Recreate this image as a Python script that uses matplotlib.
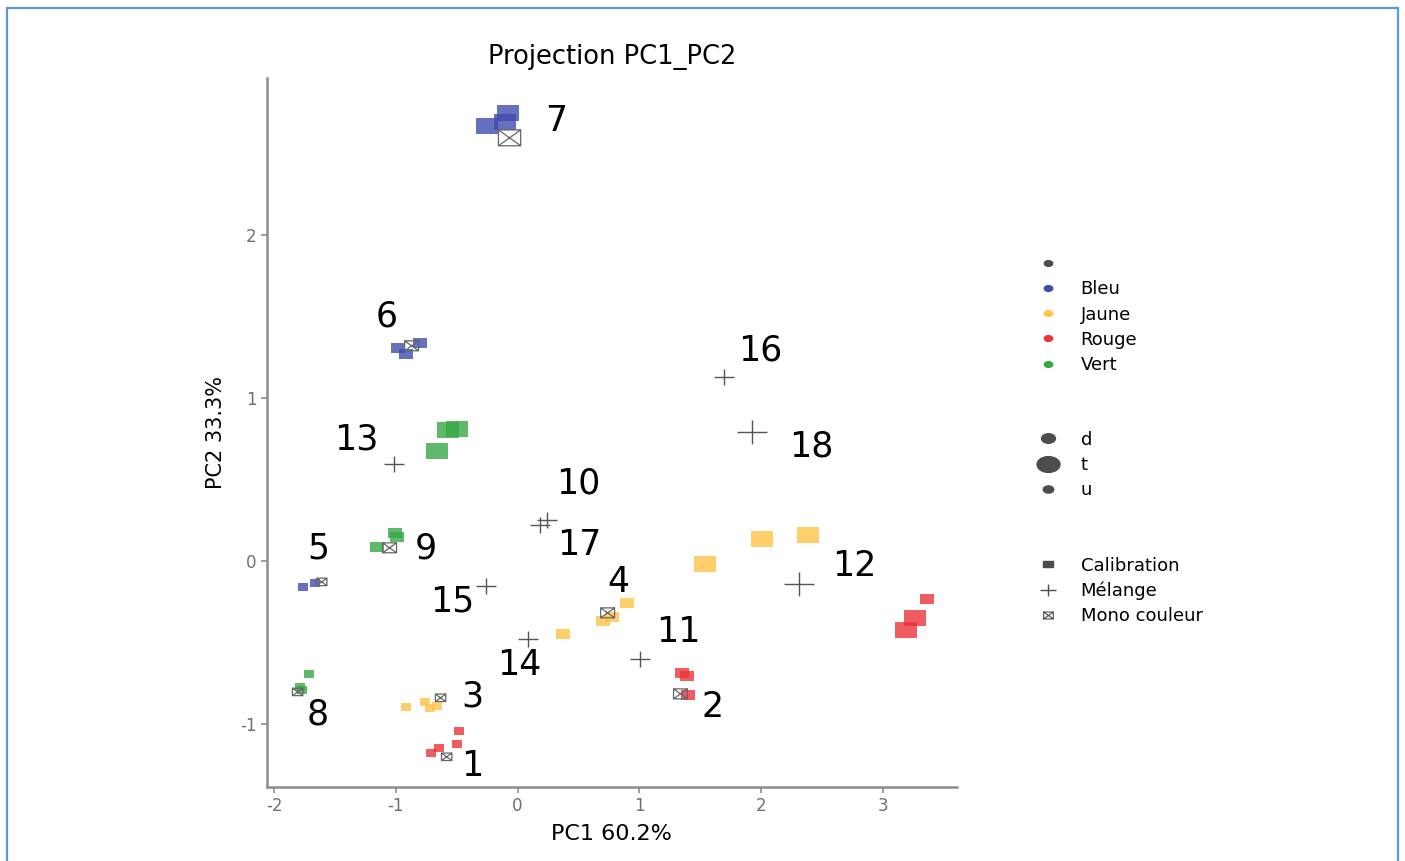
import matplotlib
matplotlib.use("Agg")
import matplotlib.pyplot as plt
from matplotlib.lines import Line2D
from matplotlib.markers import MarkerStyle
from matplotlib.patches import Rectangle
from matplotlib.path import Path
from matplotlib.transforms import Affine2D

plt.rcParams['axes.unicode_minus'] = False

# Data
# calibration points: PC1, PC2, colour, size group
cal_x = [-0.08, -0.255, -0.107,
         -0.986, -0.92, -0.805,
         -0.575, -0.50, -0.666,
         -1.767, -1.668,
         -1.01, -0.994, -1.159,
         -1.717, -1.79, -1.775,
         -0.92, -0.764, -0.723, -0.666,
         -0.485, -0.50, -0.649, -0.715,
         0.896, 0.698, 0.78, 0.37,
         1.537, 2.005, 2.391,
         1.348, 1.389, 1.397,
         3.361, 3.27, 3.196]
cal_y = [2.75, 2.67, 2.69,
         1.307, 1.27, 1.337,
         0.804, 0.81, 0.675,
         -0.16, -0.135,
         0.172, 0.147, 0.086,
         -0.693, -0.773, -0.79,
         -0.896, -0.865, -0.902, -0.89,
         -1.043, -1.123, -1.147, -1.178,
         -0.258, -0.368, -0.344, -0.448,
         -0.018, 0.135, 0.16,
         -0.687, -0.706, -0.822,
         -0.233, -0.35, -0.423]
cal_col = (['Bleu'] * 6 + ['Vert'] * 3 + ['Bleu'] * 2 + ['Vert'] * 6 +
           ['Jaune'] * 4 + ['Rouge'] * 4 + ['Jaune'] * 7 + ['Rouge'] * 6)
cal_size = (['t'] * 3 + ['d'] * 3 + ['t'] * 3 + ['u'] * 2 + ['d'] * 3 + ['u'] * 3 +
            ['u'] * 4 + ['u'] * 4 + ['d'] * 4 + ['t'] * 3 + ['d'] * 3 + ['d', 't', 't'])

# mélange points
mel_x = [-1.019, 0.238, 0.181, -0.263, 0.082, 1.01, 1.697, 1.923, 2.317]
mel_y = [0.595, 0.252, 0.221, -0.153, -0.479, -0.60, 1.128, 0.791, -0.141]
mel_size = ['d', 'd', 'd', 'd', 'd', 'd', 'd', 't', 't']

# mono couleur points
mono_x = [-0.066, -0.871, -1.61, -1.052, -1.808, -0.633, -0.583, 0.74, 1.339]
mono_y = [2.595, 1.319, -0.129, 0.08, -0.804, -0.84, -1.202, -0.319, -0.816]
mono_size = ['t', 'd', 'u', 'd', 'u', 'u', 'u', 'd', 'd']

# sample numbers
lab_txt = ['7', '6', '16', '13', '18', '10', '17', '5', '9',
           '12', '4', '15', '11', '14', '3', '2', '8', '1']
lab_x = [0.32, -1.076, 1.997, -1.323, 2.416, 0.501, 0.51, -1.635, -0.756,
         2.769, 0.83, -0.534, 1.323, 0.016, -0.37, 1.602, -1.643, -0.37]
lab_y = [2.699, 1.497, 1.288, 0.742, 0.699, 0.472, 0.098, 0.074, 0.074,
         -0.031, -0.129, -0.252, -0.436, -0.638, -0.834, -0.896, -0.945, -1.258]

colours = {'Bleu': '#3f4caf', 'Jaune': '#ffc448', 'Rouge': '#ec3339', 'Vert': '#36a846'}
sq_ms = {'u': 7.5, 'd': 10, 't': 16}
cross_ms = {'u': 13, 'd': 15, 't': 22}

# markers (the picture is stretched sideways, so shapes are wider than tall)
rect = Path([(-0.7, -0.5), (0.7, -0.5), (0.7, 0.5), (-0.7, 0.5), (-0.7, -0.5)],
            [Path.MOVETO, Path.LINETO, Path.LINETO, Path.LINETO, Path.CLOSEPOLY])
boxx = Path([(-0.7, -0.5), (0.7, -0.5), (0.7, 0.5), (-0.7, 0.5), (-0.7, -0.5),
             (-0.7, -0.5), (0.7, 0.5), (-0.7, 0.5), (0.7, -0.5)],
            [Path.MOVETO, Path.LINETO, Path.LINETO, Path.LINETO, Path.CLOSEPOLY,
             Path.MOVETO, Path.LINETO, Path.MOVETO, Path.LINETO])
plus = Path([(-0.65, 0), (0.65, 0), (0, -0.5), (0, 0.5)],
            [Path.MOVETO, Path.LINETO, Path.MOVETO, Path.LINETO])
oval = Path.unit_circle().transformed(Affine2D().scale(1.45, 1.0))

fig = plt.figure(figsize=(14.05, 8.61), dpi=100)
ax = fig.add_axes([0.190, 0.086, 0.491, 0.823])

for x, y, c, s in zip(cal_x, cal_y, cal_col, cal_size):
    ax.scatter(x, y, marker=MarkerStyle(rect), s=sq_ms[s] ** 2, color=colours[c],
               alpha=0.8, linewidths=0, zorder=2)
for x, y, s in zip(mel_x, mel_y, mel_size):
    ax.scatter(x, y, marker=MarkerStyle(plus), s=cross_ms[s] ** 2, color='#555555',
               linewidths=1.0, zorder=3)
for x, y, s in zip(mono_x, mono_y, mono_size):
    ax.scatter(x, y, marker=MarkerStyle(boxx), s=sq_ms[s] ** 2, facecolors='none',
               edgecolors='#666666', linewidths=0.9, zorder=3)
for t, x, y in zip(lab_txt, lab_x, lab_y):
    ax.text(x, y, t, fontsize=25, ha='center', va='center', color='black', zorder=4)

ax.set_xlim(-2.06, 3.61)
ax.set_ylim(-1.387, 2.96)
ax.set_xticks([-2, -1, 0, 1, 2, 3])
ax.set_yticks([-1, 0, 1, 2])
for side in ['top', 'right']:
    ax.spines[side].set_visible(False)
for side in ['left', 'bottom']:
    ax.spines[side].set_color('#8c8c8c')
    ax.spines[side].set_linewidth(1.8)
ax.tick_params(length=4, width=1.2, color='#8c8c8c', labelcolor='#707070', labelsize=12)
ax.set_xlabel('PC1 60.2%', fontsize=16, labelpad=6)
ax.set_ylabel('PC2 33.3%', fontsize=15, labelpad=10)
ax.set_title('Projection PC1_PC2', fontsize=18.5, pad=10)

# legends
grey = '#4d4d4d'
leg_kw = dict(frameon=False, fontsize=13, labelspacing=0.4, borderaxespad=0,
              handlelength=2.0, handletextpad=0.8, bbox_transform=fig.transFigure,
              loc='center left')
h1 = [Line2D([], [], ls='', marker=MarkerStyle(oval), ms=6, color=grey)]
h1 += [Line2D([], [], ls='', marker=MarkerStyle(oval), ms=6, color=colours[k])
       for k in ['Bleu', 'Jaune', 'Rouge', 'Vert']]
fig.legend(h1, ['', 'Bleu', 'Jaune', 'Rouge', 'Vert'], bbox_to_anchor=(0.728, 0.6347), **leg_kw)
h2 = [Line2D([], [], ls='', marker=MarkerStyle(oval), ms=m, color=grey) for m in [10, 16.5, 7.5]]
fig.legend(h2, ['d', 't', 'u'], bbox_to_anchor=(0.728, 0.460), **leg_kw)
h3 = [Line2D([], [], ls='', marker=MarkerStyle(rect), ms=6.5, color=grey),
      Line2D([], [], ls='', marker=MarkerStyle(plus), ms=11, color=grey, mew=1.0),
      Line2D([], [], ls='', marker=MarkerStyle(boxx), ms=7, mfc='none', mec=grey, mew=0.8)]
fig.legend(h3, ['Calibration', 'Mélange', 'Mono couleur'], bbox_to_anchor=(0.728, 0.3136), **leg_kw)

# blue frame round the picture
fig.patches.append(Rectangle((0.005, -0.02), 0.99, 1.0107, transform=fig.transFigure,
                             fill=False, edgecolor='#5b9bd5', linewidth=1.6))

fig.savefig('out.png', dpi=100)
